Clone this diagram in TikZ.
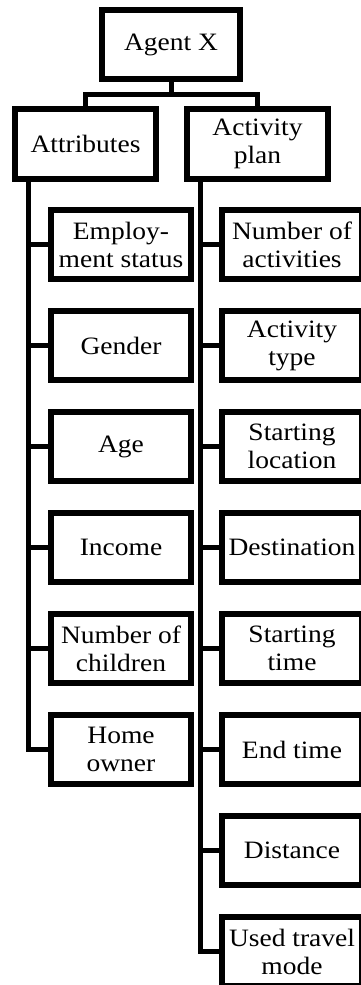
\documentclass[tikz,border=0pt]{standalone}
\usepackage{fontspec}
\setmainfont[FakeStretch=1.1]{Liberation Serif}
\begin{document}
\begin{tikzpicture}[x=1pt,y=-1pt,
  box/.style={draw=black, line width=6pt, fill=white, align=center, inner sep=0pt,
    font=\fontsize{25}{28}\selectfont, line join=miter},
  toplevel/.style={box, minimum width=141pt, minimum height=70pt},
  item/.style={box, minimum width=140pt, minimum height=69pt},
  link/.style={line width=5pt, line join=miter}]
\clip (0,0) rectangle (361,985);
\fill[white] (0,0) rectangle (361,985);

% root and its two branches
\node[box, minimum width=138pt, minimum height=69pt] (agent) at (171,44.5) {Agent X};
\node[toplevel] (attr) at (85.5,144.3) {Attributes};
\node[toplevel] (plan) at (257.5,144.3) {Activity\\plan};

% attribute items
\node[item] (emp)  at (121,244.5) {Employ-\\ment status};
\node[item] (gen)  at (121,345.5) {Gender};
\node[item] (age)  at (121,446.5) {Age};
\node[item] (inc)  at (121,547.5) {Income};
\node[item] (chi)  at (121,648.5) {Number of\\children};
\node[item] (home) at (121,749.5) {Home\\owner};

% activity plan items
\node[item] (nact) at (292,244.5) {Number of\\activities};
\node[item] (atyp) at (292,345.5) {Activity\\type};
\node[item] (sloc) at (292,446.5) {Starting\\location};
\node[item] (dest) at (292,547.5) {Destination};
\node[item] (stim) at (292,648.5) {Starting\\time};
\node[item] (etim) at (292,749.5) {End time};
\node[item] (dist) at (292,850.5) {Distance};
\node[item] (mode) at (292,951.5) {Used travel\\mode};

% root connector
\coordinate (mid) at (171,94.5);
\draw[link] (agent.south) -- (mid);
\draw[link] (attr.north) -- (attr.north |- mid) -- (plan.north |- mid) -- (plan.north);

% trunks
\coordinate (tl) at (28.5,180);
\coordinate (tr) at (200.5,180);
\draw[link] (tl) |- (home.west);
\draw[link] (tr) |- (mode.west);
\foreach \n in {emp,gen,age,inc,chi}
  \draw[link] (\n.west) -- (\n.west -| tl);
\foreach \n in {nact,atyp,sloc,dest,stim,etim,dist}
  \draw[link] (\n.west) -- (\n.west -| tr);
\end{tikzpicture}
\end{document}
